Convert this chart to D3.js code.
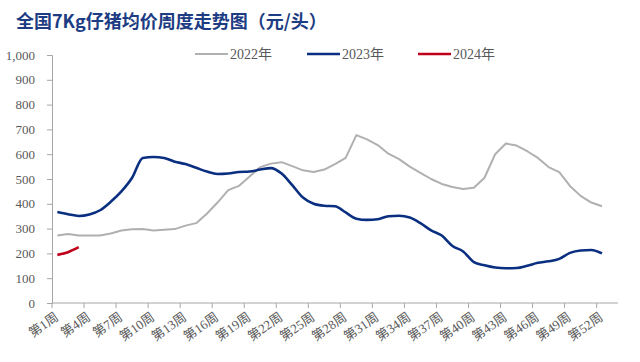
<!DOCTYPE html>
<html lang="zh">
<head>
<meta charset="UTF-8">
<title>全国7Kg仔猪均价周度走势图</title>
<script src="https://d3js.org/d3.v7.min.js"></script>
<style>
    body{ margin:0; background:#fff; }
    svg text{ font-family:"Liberation Serif","Noto Sans CJK SC",serif; fill:#595959; }
    .title{ font-family:"Noto Sans CJK SC",sans-serif !important; font-weight:bold; fill:#1d3c83 !important; }
</style>
</head>
<body>
<svg id="canvas" width="640" height="362"></svg>
<script>
    // weeks 1..53 on the category axis, data up to week 52
    const weeks = d3.range(1, 54);
    const tickWeeks = d3.range(1, 53, 3);
    const yTicks = d3.range(0, 1001, 100);

    const price2022 = [272,278,272,272,272,280,292,297,298,292,295,298,312,322,360,405,455,472,510,548,
        562,568,552,535,528,538,560,585,677,660,637,602,580,550,525,500,480,468,460,465,
        505,600,643,635,612,585,548,528,472,432,405,390];
    const price2023 = [367,358,351,357,374,408,450,505,585,589,585,570,560,545,530,520,522,528,530,538,
        544,522,475,425,400,392,390,365,340,335,338,350,352,345,322,293,272,230,208,165,
        152,143,140,141,150,162,168,178,202,212,214,200];
    const price2024 = [194,205,225];

    const series = [
        {name:"2022年", values:price2022, color:"#b0b0b0", width:2, curve:d3.curveLinear},
        {name:"2023年", values:price2023, color:"#0a2f80", width:2.6, curve:d3.curveMonotoneX},
        {name:"2024年", values:price2024, color:"#c0001a", width:2.6, curve:d3.curveMonotoneX}
    ];

    const svg = d3.select("#canvas");
    const plotLeft = 52, plotRight = 618, plotTop = 55, plotBottom = 303;

    const x = d3.scaleBand().domain(weeks).range([plotLeft, plotRight]);
    const y = d3.scaleLinear().domain([0, 1000]).range([plotBottom, plotTop]);

    svg.append("text").attr("class","title")
        .attr("x", 16).attr("y", 28)
        .attr("font-size", 18)
        .text("全国7Kg仔猪均价周度走势图（元/头）");

    // y axis
    const yAxis = svg.append("g").attr("transform", `translate(${plotLeft},0)`)
        .call(d3.axisLeft(y).tickValues(yTicks).tickSize(5).tickPadding(12).tickFormat(d3.format(",")));
    yAxis.select(".domain").attr("stroke", "#a6a6a6");
    yAxis.selectAll(".tick line").attr("stroke", "#a6a6a6");
    yAxis.selectAll(".tick text").attr("font-size", 13).attr("fill", "#595959");

    // x axis: ticks on category edges, labels on category centres
    const xg = svg.append("g");
    xg.append("line").attr("x1", plotLeft).attr("x2", plotRight).attr("y1", plotBottom).attr("y2", plotBottom)
        .attr("stroke", "#a6a6a6");
    xg.selectAll(".xt").data(tickWeeks).enter().append("line")
        .attr("x1", d => x(d)).attr("x2", d => x(d))
        .attr("y1", plotBottom).attr("y2", plotBottom + 5)
        .attr("stroke", "#a6a6a6");
    xg.selectAll(".xl").data(tickWeeks).enter().append("text")
        .attr("transform", d => `translate(${x(d) + x.bandwidth() / 2 + 2},${plotBottom + 16}) rotate(-35)`)
        .attr("text-anchor", "end")
        .attr("font-size", 13)
        .text(d => `第${d}周`);

    // lines
    series.forEach(s => {
        const line = d3.line()
            .x((d, i) => x(i + 1) + x.bandwidth() / 2)
            .y(d => y(d))
            .curve(s.curve);
        svg.append("path").datum(s.values)
            .attr("d", line)
            .attr("fill", "none")
            .attr("stroke", s.color)
            .attr("stroke-width", s.width)
            .attr("stroke-linejoin", "round");
    });

    // legend
    const legendX = [195, 307, 418];
    const legend = svg.append("g").selectAll("g").data(series).enter().append("g")
        .attr("transform", (d, i) => `translate(${legendX[i]},54)`);
    legend.append("line").attr("x1", 0).attr("x2", 33)
        .attr("stroke", d => d.color).attr("stroke-width", d => d.width);
    legend.append("text").attr("x", 35).attr("y", 5)
        .attr("font-size", 14)
        .text(d => d.name);
</script>
</body>
</html>
